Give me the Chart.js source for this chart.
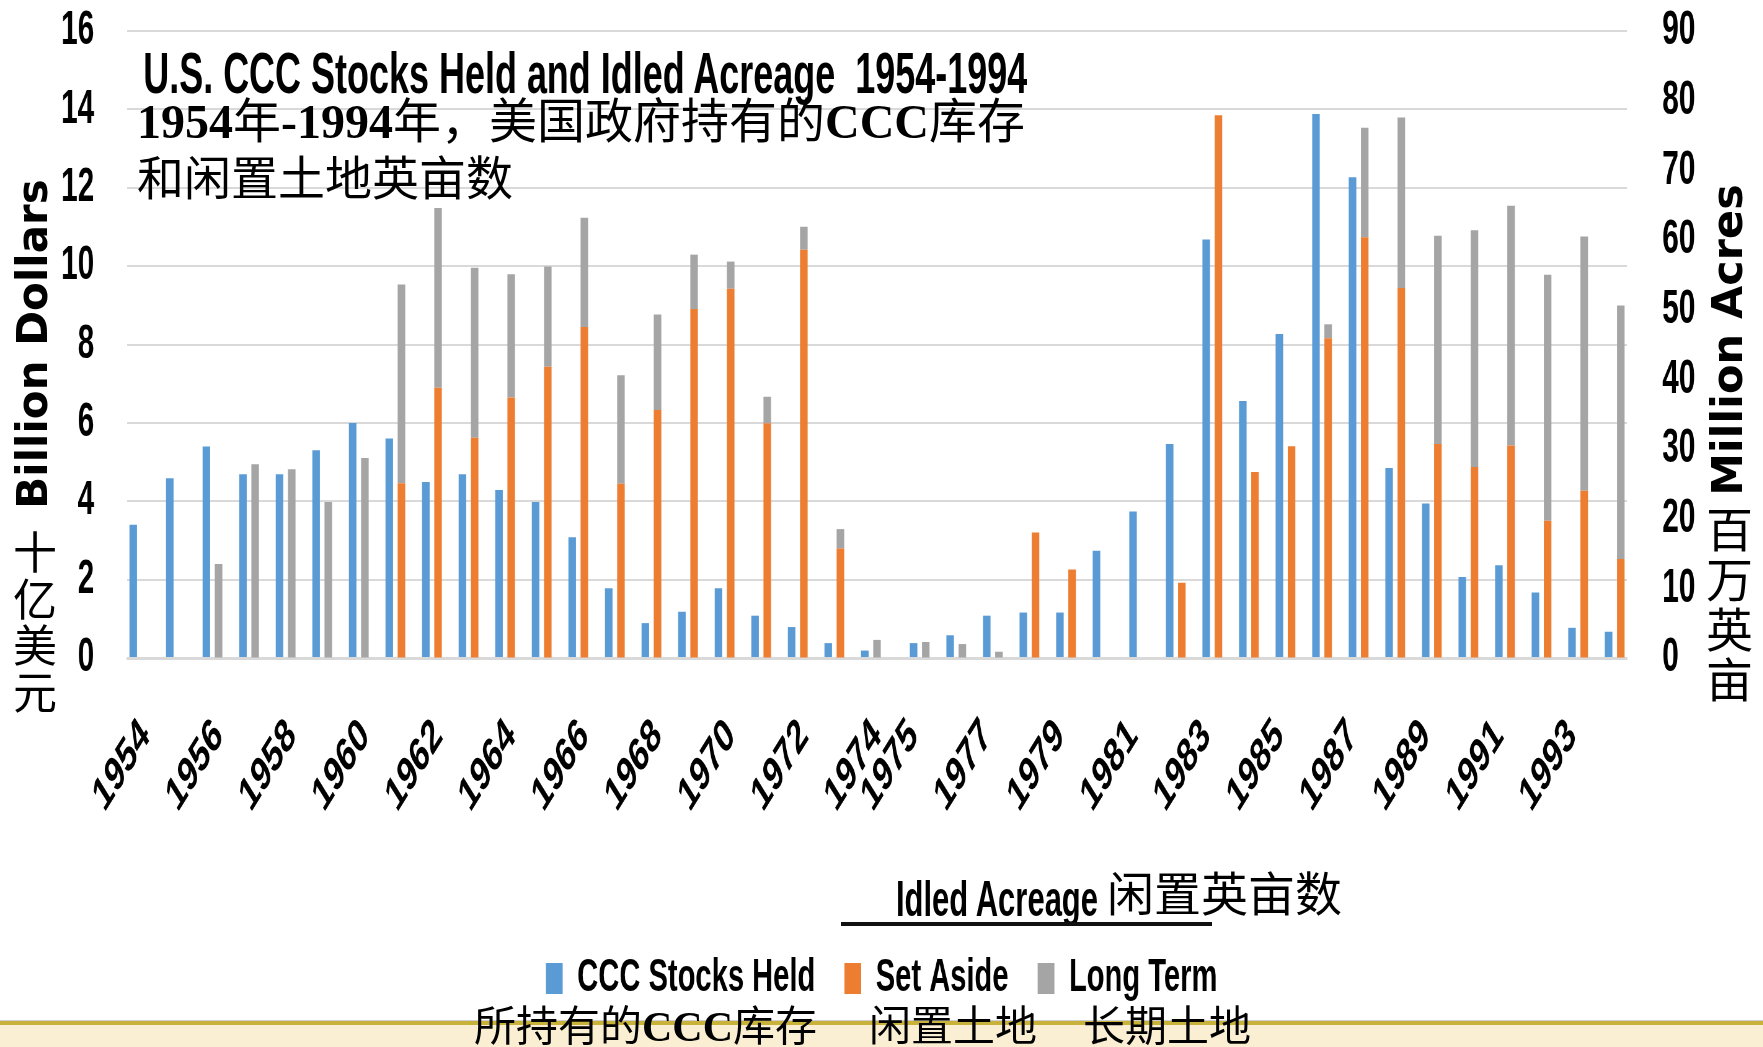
<!DOCTYPE html>
<html>
<head>
<meta charset="utf-8">
<script src="https://cdn.jsdelivr.net/npm/chart.js@4.4.1/dist/chart.umd.min.js"></script>
<style>
html,body{margin:0;padding:0;overflow:hidden;background:#fff;}
#page{position:relative;width:1763px;height:1047px;overflow:hidden;background:#fff;}
#band{position:absolute;left:0;top:1020px;width:1763px;height:27px;background:#fbefd3;border-top:1px solid #cfcfcf;}
#goldline{position:absolute;left:0;top:1021px;width:1763px;height:4px;background:#c9b23a;}
#sq{position:absolute;left:0;top:0;width:2844px;height:1047px;transform:scaleX(0.62);transform-origin:0 0;}
#sq canvas{position:absolute;left:0;top:0;}
.cond{position:absolute;font-family:'Liberation Sans',Arial,sans-serif;font-weight:bold;color:#000;white-space:nowrap;line-height:1;}
.zh{position:absolute;font-family:'Liberation Serif','Noto Sans CJK SC',serif;color:#000;white-space:nowrap;}
.b{font-weight:bold;}
.axt{position:absolute;font-family:'DejaVu Sans',sans-serif;font-weight:bold;color:#000;white-space:nowrap;transform:translate(-50%,-50%) rotate(-90deg);line-height:1;}
.vz{position:absolute;font-family:'Noto Sans CJK SC',sans-serif;color:#000;width:1em;text-align:center;}
#uline{position:absolute;left:841px;top:922px;width:371px;height:4px;background:#111;}
</style>
</head>
<body>
<div id="page">
  <div id="band"></div>
  <div id="goldline"></div>
  <div id="sq">
    <canvas id="c" width="2844" height="1047"></canvas>
    <div class="cond" style="left:231px;top:44px;font-size:58px;">U.S. CCC Stocks Held and Idled Acreage&nbsp; 1954-1994</div>
    <div class="cond" style="left:1445px;top:874px;font-size:50px;">Idled Acreage</div>
  </div>
  <div id="uline"></div>
  <div class="zh" style="left:1107px;top:872px;font-size:47px;line-height:47px;">闲置英亩数</div>
  <div class="zh" style="left:137px;top:98px;font-size:48px;line-height:48px;"><span class="b">1954</span>年<span class="b">-1994</span>年，美国政府持有的<span class="b">CCC</span>库存</div>
  <div class="zh" style="left:137px;top:156px;font-size:47px;line-height:47px;">和闲置土地英亩数</div>
  <div class="zh" style="left:474px;top:1006px;font-size:42px;line-height:42px;">所持有的<span class="b">CCC</span>库存</div>
  <div class="zh" style="left:869px;top:1006px;font-size:42px;line-height:42px;">闲置土地</div>
  <div class="zh" style="left:1083px;top:1006px;font-size:42px;line-height:42px;">长期土地</div>
  <div class="axt" style="left:33px;top:344px;font-size:42px;">Billion Dollars</div>
  <div class="axt" style="left:1727px;top:340px;font-size:43px;">Million Acres</div>
  <div class="vz" style="left:13px;top:527px;font-size:44px;line-height:46.7px;">十亿美元</div>
  <div class="vz" style="left:1706px;top:502px;font-size:47px;line-height:50px;">百万英亩</div>
</div>
<script>
const years = [1954,1955,1956,1957,1958,1959,1960,1961,1962,1963,
               1964,1965,1966,1967,1968,1969,1970,1971,1972,1973,
               1974,1975,1976,1977,1978,1979,1980,1981,1982,1983,
               1984,1985,1986,1987,1988,1989,1990,1991,1992,1993,1994];
// Billion dollars (left axis)
const cccStocks = [3.40,4.59,5.40,4.69,4.69,5.30,6.00,5.60,4.49,4.69,
                   4.29,3.98,3.08,1.78,0.89,1.18,1.78,1.08,0.79,0.38,
                   0.19,0.38,0.58,1.08,1.16,1.16,2.74,3.74,5.46,10.68,
                   6.56,8.27,13.88,12.27,4.85,3.94,2.07,2.37,1.67,0.77,0.67];
// Million acres (right axis)
const setAside = [0,0,0,0,0,0,0,25.1,38.8,31.6,
                  37.4,41.8,47.5,25.0,35.6,50.1,53.0,33.7,58.6,15.7,
                  0,0,0,0,18.0,12.7,0,0,10.8,77.9,
                  26.7,30.4,45.9,60.4,53.1,30.7,27.4,30.5,19.7,24.0,14.2];
const longTerm = [0,0,13.5,27.8,27.1,22.4,28.7,28.5,25.8,24.4,
                  17.7,14.4,15.7,15.6,13.7,7.8,3.9,3.8,3.3,2.8,
                  2.6,2.3,2.0,0.9,0,0,0,0,0,0,
                  0,0,2.0,15.7,24.5,29.9,34.0,34.4,35.3,36.5,36.4];
const leftTicks = [0,2,4,6,8,10,12,14,16];
const rightTicks = [0,10,20,30,40,50,60,70,80,90];
const seriesNames = ['CCC Stocks Held','Set Aside','Long Term'];
const splitYear = 1975;

const BLUE = '#5B9BD5', ORANGE = '#ED7D31', GRAY = '#A5A5A5';
const FONT = "'Liberation Sans', Arial, sans-serif";
const pre = arr => arr.map((v,i) => years[i] < splitYear ? v : null);
const post = arr => arr.map((v,i) => years[i] >= splitYear ? v : null);

const ds = (label, data, color, axis, stack) => ({label, data, backgroundColor: color, borderWidth: 0, yAxisID: axis, stack});

new Chart(document.getElementById('c'), {
  type: 'bar',
  data: {
    labels: years.map(String),
    datasets: [
      ds(seriesNames[0], pre(cccStocks), BLUE, 'y', 'a'),
      ds(seriesNames[1], pre(setAside), ORANGE, 'y1', 'b'),
      ds(seriesNames[2], pre(longTerm), GRAY, 'y1', 'b'),
      ds(seriesNames[0], post(cccStocks), BLUE, 'y', 'b'),
      ds(seriesNames[1], post(setAside), ORANGE, 'y1', 'c'),
      ds(seriesNames[2], post(longTerm), GRAY, 'y1', 'c')
    ]
  },
  options: {
    responsive: false,
    animation: false,
    devicePixelRatio: 1,
    barPercentage: 0.62,
    categoryPercentage: 1.0,
    layout: {padding: {top: 31, bottom: 35, left: 0, right: 0}},
    plugins: {
      tooltip: {enabled: false},
      legend: {
        position: 'bottom',
        labels: {
          filter: item => item.datasetIndex < 3,
          boxWidth: 27, boxHeight: 31, padding: 47,
          color: '#000',
          font: {family: FONT, size: 47, weight: 'bold'}
        }
      }
    },
    scales: {
      x: {
        offset: true,
        grid: {display: false, drawTicks: false},
        border: {display: true, color: '#d9d9d9', width: 3},
        ticks: {
          autoSkip: false, maxRotation: 45, minRotation: 45, padding: 50,
          color: '#000', font: {family: FONT, size: 48, weight: 'bold'},
          callback: function(value, index) {
            const show = years[index] < splitYear ? index % 2 === 0 : index % 2 === 1;
            return show ? String(years[index]) : '';
          }
        },
        afterFit: s => { s.height = 250; }
      },
      y: {
        position: 'left', stacked: true,
        min: leftTicks[0], max: leftTicks[leftTicks.length-1],
        grid: {color: '#d9d9d9', lineWidth: 2, drawTicks: false},
        border: {display: false},
        ticks: {stepSize: leftTicks[1]-leftTicks[0], padding: 53, color: '#000', font: {family: FONT, size: 48, weight: 'bold'}},
        afterFit: s => { s.width = 205; s.paddingTop = 0; s.paddingBottom = 0; }
      },
      y1: {
        position: 'right', stacked: true,
        min: rightTicks[0], max: rightTicks[rightTicks.length-1],
        grid: {drawOnChartArea: false, drawTicks: false},
        border: {display: false},
        ticks: {stepSize: rightTicks[1]-rightTicks[0], padding: 57, color: '#000', font: {family: FONT, size: 48, weight: 'bold'}},
        afterFit: s => { s.width = 220; s.paddingTop = 0; s.paddingBottom = 0; }
      }
    }
  }
});
</script>
</body>
</html>
